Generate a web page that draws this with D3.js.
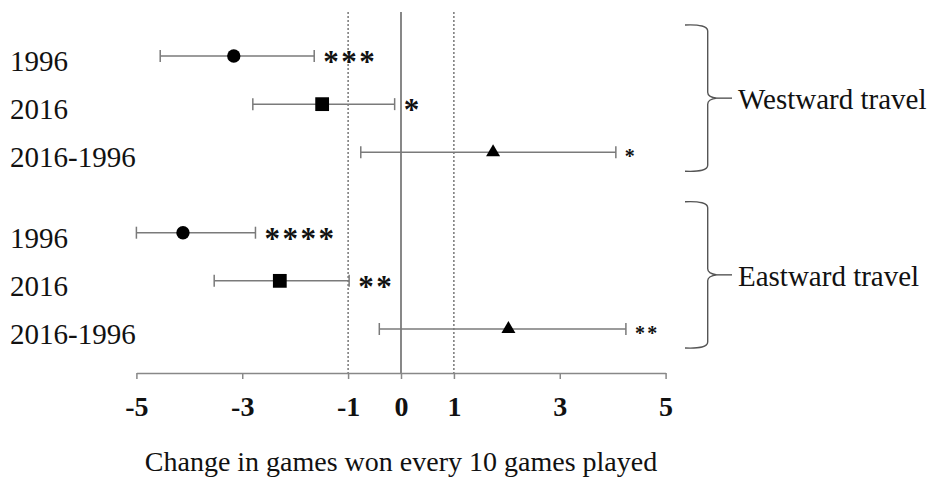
<!DOCTYPE html>
<html>
<head>
<meta charset="utf-8">
<script src="https://cdn.jsdelivr.net/npm/d3@7"></script>
<style>
  html, body { margin: 0; padding: 0; background: #fff; }
  svg { display: block; }
  text { font-family: "Liberation Serif", "Times New Roman", serif; fill: #111; }
</style>
</head>
<body>
<svg id="chart" width="934" height="478"></svg>
<script>
// Row labels, grouped by travel direction
const rowLabels = ["1996", "2016", "2016-1996", "1996", "2016", "2016-1996"];
const rowGroup  = [0, 0, 0, 1, 1, 1];
const groupNames = ["Westward travel", "Eastward travel"];

// Point estimates and confidence limits (games won per 10 played)
const estimate = [-3.16, -1.49, 1.74, -4.12, -2.29, 2.03];
const lower    = [-4.55, -2.80, -0.76, -5.00, -3.53, -0.41];
const upper    = [-1.64, -0.12, 4.06, -2.75, -0.98, 4.25];

// Significance markers and marker shapes per row
const stars   = ["***", "*", "*", "****", "**", "**"];
const starBig = [true, true, false, true, true, false];
const shapes  = ["circle", "square", "triangle", "circle", "square", "triangle"];

// Axis ticks and reference lines
const tickValues = [-5, -3, -1, 0, 1, 3, 5];
const refDashed = [-1, 1];
const refSolid = [0];
const axisTitle = "Change in games won every 10 games played";

const svg = d3.select("#chart");

const x = d3.scaleLinear().domain([-5, 5]).range([136.4, 665.6]);

// Rows within a group are one slot apart; groups are separated by an extra gap
const groupGap = 0.67;
const slot = i => {
  const within = i - rowGroup.indexOf(rowGroup[i]);
  return rowGroup[i] * (3 + groupGap) + within;
};
const y = d3.scaleLinear().domain([0, 5 + groupGap]).range([56, 329]);

const axisY = 373;
const lineTop = 12;

// Reference lines
svg.append("g").selectAll("line").data(refDashed).join("line")
  .attr("x1", d => x(d)).attr("x2", d => x(d))
  .attr("y1", lineTop).attr("y2", axisY)
  .attr("stroke", "#333").attr("stroke-width", 1)
  .attr("stroke-dasharray", "2,2");

svg.append("g").selectAll("line").data(refSolid).join("line")
  .attr("x1", d => x(d)).attr("x2", d => x(d))
  .attr("y1", lineTop).attr("y2", axisY)
  .attr("stroke", "#555").attr("stroke-width", 1.4);

// Error bars
const rows = rowLabels.map((lab, i) => ({
  i, lab, est: estimate[i], lo: lower[i], hi: upper[i],
  star: stars[i], big: starBig[i], shape: shapes[i]
}));

const bars = svg.append("g").selectAll("g").data(rows).join("g");
const capH = 6;
bars.append("line")
  .attr("x1", d => x(d.lo)).attr("x2", d => x(d.hi))
  .attr("y1", d => y(slot(d.i))).attr("y2", d => y(slot(d.i)))
  .attr("stroke", "#7a7a7a").attr("stroke-width", 1.5);
bars.append("line")
  .attr("x1", d => x(d.lo)).attr("x2", d => x(d.lo))
  .attr("y1", d => y(slot(d.i)) - capH).attr("y2", d => y(slot(d.i)) + capH)
  .attr("stroke", "#7a7a7a").attr("stroke-width", 1.5);
bars.append("line")
  .attr("x1", d => x(d.hi)).attr("x2", d => x(d.hi))
  .attr("y1", d => y(slot(d.i)) - capH).attr("y2", d => y(slot(d.i)) + capH)
  .attr("stroke", "#7a7a7a").attr("stroke-width", 1.5);

// Point markers
const symbolFor = {
  circle: d3.symbol().type(d3.symbolCircle).size(140),
  square: d3.symbol().type(d3.symbolSquare).size(190),
  triangle: d3.symbol().type(d3.symbolTriangle).size(85)
};
bars.append("path")
  .attr("d", d => symbolFor[d.shape]())
  .attr("transform", d => `translate(${x(d.est)},${y(slot(d.i))})`)
  .attr("fill", "#000");

// Significance asterisks
bars.append("text")
  .attr("x", d => x(d.hi) + 9)
  .attr("y", d => y(slot(d.i)) + (d.big ? 16 : 11))
  .attr("font-size", d => d.big ? 31 : 20)
  .attr("font-weight", "bold")
  .attr("letter-spacing", d => d.big ? 2.5 : 2.3)
  .text(d => d.star);

// Row labels
svg.append("g").selectAll("text").data(rows).join("text")
  .attr("x", 10)
  .attr("y", d => y(slot(d.i)) + 15)
  .attr("font-size", 29)
  .text(d => d.lab);

// Axis
const axis = d3.axisBottom(x)
  .tickValues(tickValues)
  .tickSize(6)
  .tickSizeOuter(0)
  .tickFormat(d => String(d));
const gAxis = svg.append("g").attr("transform", `translate(0,${axisY})`).call(axis);
gAxis.select(".domain").attr("stroke", "#888").attr("stroke-width", 1.5);
gAxis.selectAll(".tick line").attr("stroke", "#888").attr("stroke-width", 1.5);
gAxis.selectAll(".tick text")
  .attr("y", 43).attr("dy", null)
  .attr("fill", "#111")
  .style("font-family", '"Liberation Serif", "Times New Roman", serif')
  .style("font-size", "28px")
  .style("font-weight", "bold");

svg.append("text")
  .attr("x", (x(-5) + x(5)) / 2)
  .attr("y", 471)
  .attr("text-anchor", "middle")
  .attr("font-size", 28)
  .text(axisTitle);

// Group braces with labels
const braceX = 707.7, braceL = 685, tipX = 717, dashEnd = 732;
groupNames.forEach((name, g) => {
  const idx = rowGroup.map((v, i) => v === g ? i : -1).filter(i => i >= 0);
  const top = y(slot(idx[0])) - 31;
  const bot = y(slot(idx[idx.length - 1])) + 19;
  const mid = (top + bot) / 2;
  const p = d3.path();
  p.moveTo(braceL, top);
  p.quadraticCurveTo(braceX, top - 1, braceX, top + 6);
  p.lineTo(braceX, mid - 6);
  p.quadraticCurveTo(braceX, mid - 1, tipX, mid);
  p.quadraticCurveTo(braceX, mid + 1, braceX, mid + 6);
  p.lineTo(braceX, bot - 6);
  p.quadraticCurveTo(braceX, bot + 1, braceL, bot);
  svg.append("path").attr("d", p.toString())
    .attr("fill", "none").attr("stroke", "#555").attr("stroke-width", 1.4);
  svg.append("line")
    .attr("x1", tipX).attr("x2", dashEnd).attr("y1", mid).attr("y2", mid)
    .attr("stroke", "#555").attr("stroke-width", 1.4);
  svg.append("text")
    .attr("x", 738).attr("y", mid + 11)
    .attr("font-size", 29)
    .text(name);
});
</script>
</body>
</html>
